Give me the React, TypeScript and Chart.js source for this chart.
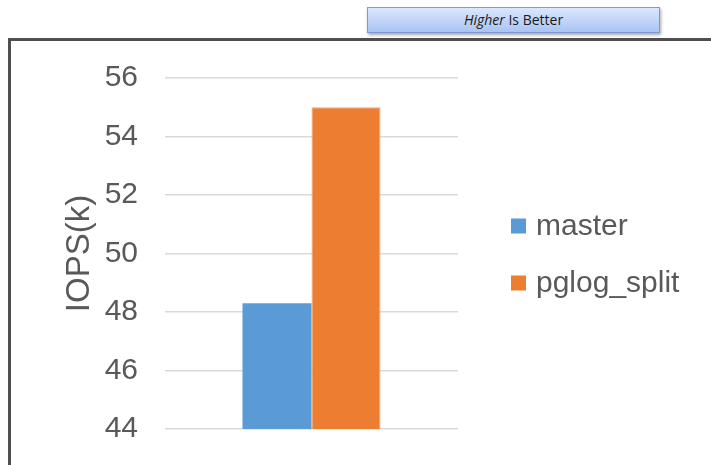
import React, { useEffect, useRef } from "react";
import { Chart, registerables } from "chart.js";

Chart.register(...registerables);

// Data
const categories: string[] = [""];
const seriesNames: string[] = ["master", "pglog_split"];
const masterValues: number[] = [48.3];
const pglogSplitValues: number[] = [55.0];
const seriesColors: string[] = ["#5b9bd5", "#ed7d31"];
const yMin = 44;
const yMax = 56;
const yStep = 2;
const yAxisTitle = "IOPS(k)";
const badgeItalic = "Higher";
const badgeRest = " Is Better";

const FONT = "'Liberation Sans', Arial, sans-serif";
const TEXT_COLOR = "#595959";

// Draws the legend to the right of the plot area from the chart's datasets
const sideLegend = {
  id: "sideLegend",
  afterDraw(chart: any) {
    const ctx = chart.ctx as CanvasRenderingContext2D;
    const boxX = 511;
    const textX = 536;
    const firstY = 226;
    const rowGap = 57;
    const box = 15;
    ctx.save();
    ctx.font = `30px ${FONT}`;
    ctx.textBaseline = "middle";
    ctx.textAlign = "left";
    chart.data.datasets.forEach((ds: any, i: number) => {
      const cy = firstY + i * rowGap;
      ctx.fillStyle = ds.backgroundColor;
      ctx.fillRect(boxX, cy - box / 2, box, box);
      ctx.fillStyle = TEXT_COLOR;
      ctx.fillText(ds.label, textX, cy + 1);
    });
    ctx.restore();
  },
};

export default function App() {
  const canvasRef = useRef<HTMLCanvasElement | null>(null);

  useEffect(() => {
    if (!canvasRef.current) return;
    const chart = new Chart(canvasRef.current, {
      type: "bar",
      data: {
        labels: categories,
        datasets: [
          {
            label: seriesNames[0],
            data: masterValues,
            backgroundColor: seriesColors[0],
            borderWidth: 0,
          },
          {
            label: seriesNames[1],
            data: pglogSplitValues,
            backgroundColor: seriesColors[1],
            borderColor: "#f3a46c",
            borderWidth: 1,
          },
        ],
      },
      options: {
        animation: false,
        responsive: false,
        maintainAspectRatio: false,
        layout: { padding: { left: 0, top: 78, right: 253, bottom: 36 } },
        datasets: {
          bar: { categoryPercentage: 0.471, barPercentage: 1 },
        },
        plugins: {
          legend: { display: false },
          tooltip: { enabled: false },
        },
        scales: {
          x: { display: false },
          y: {
            min: yMin,
            max: yMax,
            ticks: {
              stepSize: yStep,
              padding: 27,
              color: TEXT_COLOR,
              font: { family: FONT, size: 30 },
            },
            grid: { color: "#d9d9d9", lineWidth: 1.5, drawTicks: false },
            border: { display: false },
            title: {
              display: true,
              text: yAxisTitle,
              color: TEXT_COLOR,
              font: { family: FONT, size: 33 },
              padding: { top: 60, bottom: 0 },
            },
            afterFit(scale: any) {
              scale.width = 165;
              scale.paddingTop = 0;
              scale.paddingBottom = 0;
            },
          },
        },
      },
      plugins: [sideLegend],
    });
    return () => chart.destroy();
  }, []);

  return (
    <div
      style={{
        position: "fixed",
        left: 0,
        top: 0,
        width: 711,
        height: 465,
        background: "#ffffff",
        overflow: "hidden",
      }}
    >
      <div
        style={{
          position: "absolute",
          left: 367,
          top: 7,
          width: 291,
          height: 24,
          border: "1px solid #7d9bd3",
          background: "linear-gradient(#dbe7fc, #a9c4f3)",
          boxShadow: "1px 2px 3px rgba(0,0,0,0.35)",
          fontFamily: "'Open Sans', sans-serif",
          fontSize: 14,
          lineHeight: "24px",
          textAlign: "center",
          color: "#1a1a1a",
        }}
      >
        <i>{badgeItalic}</i>
        {badgeRest}
      </div>
      <div
        style={{
          position: "absolute",
          left: 8,
          top: 38,
          width: 703,
          height: 3,
          background: "#4f4f4f",
        }}
      />
      <div
        style={{
          position: "absolute",
          left: 8,
          top: 38,
          width: 3,
          height: 427,
          background: "#4f4f4f",
        }}
      />
      <canvas
        ref={canvasRef}
        width={711}
        height={465}
        style={{ position: "absolute", left: 0, top: 0, width: 711, height: 465 }}
      />
    </div>
  );
}
